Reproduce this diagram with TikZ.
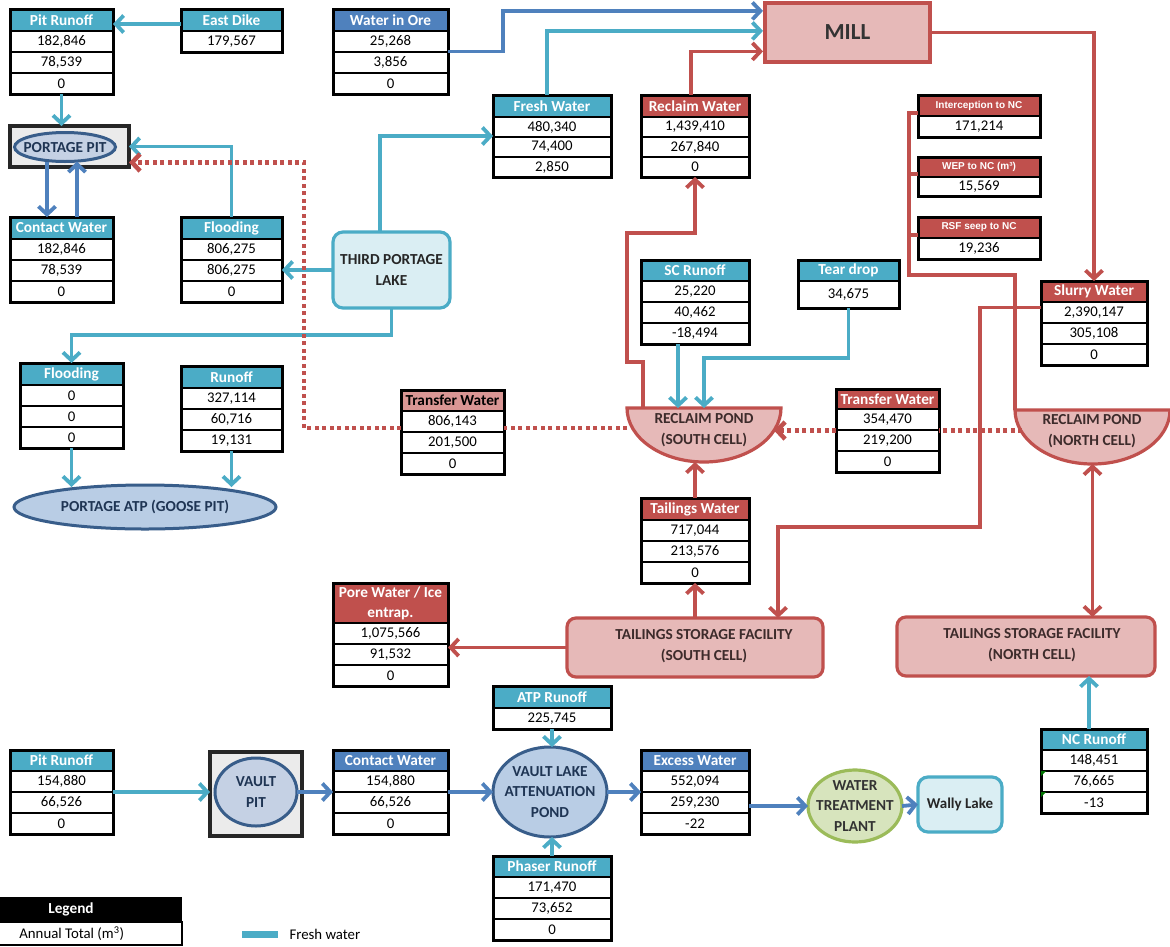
\documentclass[tikz,border=0pt]{standalone}
\usepackage{fontspec}
\setmainfont{Carlito}
\newfontfamily\smallhd{Liberation Sans}
\usetikzlibrary{arrows.meta,shapes.geometric,fit,calc}

\definecolor{fwblue}{HTML}{4BACC6}
\definecolor{cwblue}{HTML}{4F81BD}
\definecolor{rcred}{HTML}{C0504D}
\definecolor{pinkfill}{HTML}{E6B9B8}
\definecolor{pinkhd}{HTML}{DA9694}
\definecolor{navyline}{HTML}{385D8A}
\definecolor{ellfill}{HTML}{B9CDE5}
\definecolor{pitell}{HTML}{C5D1E4}
\definecolor{lakefill}{HTML}{DAEEF3}
\definecolor{pitfill}{HTML}{EBEBEB}
\definecolor{wtpfill}{HTML}{D7E4BD}
\definecolor{wtpline}{HTML}{9BBB59}
\definecolor{pinktext}{HTML}{3D2B2B}
\definecolor{navytext}{HTML}{1F3554}

\newcommand\tabfont{\fontsize{14.8}{17}\selectfont}
\newcommand\headfont{\fontsize{15.3}{20}\selectfont\bfseries}
\newcommand\lblfont{\fontsize{15.3}{20.5}\selectfont\bfseries}
\newcommand\rowh{21}

% data table: name, left x, top y, width, header height, header style, title, rows
\newcommand\wtab[8]{%
  \node[tabhead,#6,minimum width=#4pt,minimum height=#5pt] (#1) at (#2,#3) {#7};
  \foreach \v [count=\i] in {#8} {
    \node[tabrow,minimum width=#4pt,minimum height=\rowh pt] (#1-\i) at ({#2+#4/2},{#3+#5+(\i-1)*\rowh}) {\v};
    \xdef\lastrow{\i}
  }
  \node[tabframe,fit=(#1)(#1-\lastrow)] (#1-box) {};
}

\tikzset{
  tabhead/.style={draw=black,line width=2.4pt,inner sep=1pt,outer sep=0pt,anchor=north west,
    font=\headfont,text=white,align=center},
  tabrow/.style={draw=black,line width=1.8pt,inner sep=0pt,outer sep=0pt,anchor=north,
    fill=white,font=\tabfont,text=black},
  tabframe/.style={draw=black,line width=3pt,inner sep=0pt,outer sep=0pt},
  smallhead/.style={fill=rcred,font={\fontsize{10}{12}\selectfont\smallhd\bfseries}},
  fw/.style={draw=fwblue,line width=3.8pt},
  cw/.style={draw=cwblue,line width=3.8pt},
  rc/.style={draw=rcred,line width=3.8pt},
  arr/.style={-{Straight Barb[length=8pt,width=17pt]}},
  dotline/.style={draw=rcred,line width=4.5pt,dash pattern=on 4pt off 3.5pt},
  pinkbox/.style={draw=rcred,fill=pinkfill,line width=3.2pt,rounded corners=9pt,inner sep=0pt,outer sep=0pt},
  pitbox/.style={draw=black!85,fill=pitfill,line width=3.2pt,inner sep=0pt,outer sep=0pt},
  blueell/.style={ellipse,draw=navyline,fill=ellfill,line width=3pt,inner sep=0pt,outer sep=0pt},
  lakebox/.style={draw=fwblue,fill=lakefill,line width=3.2pt,rounded corners=10pt,inner sep=0pt,outer sep=0pt},
  lbl/.style={font=\lblfont,align=center,inner sep=0pt},
}

\begin{document}
\begin{tikzpicture}[x=1pt,y=-1pt]
\useasboundingbox (0,0) rectangle (1170,946);
\fill[white] (0,0) rectangle (1170,946);

% ---------- process shapes ----------
\node[draw=rcred,fill=pinkfill,line width=3.8pt,minimum width=165pt,minimum height=59pt,anchor=north west,
  inner sep=0pt,font=\fontsize{23}{26}\selectfont\bfseries,text=black!80] (mill) at (763,1) {MILL};

\node[pitbox,minimum width=119pt,minimum height=41pt,anchor=north west] (pp) at (10,126) {};
\node[blueell,fill=pitell,minimum width=101pt,minimum height=29pt] (ppe) at (65,147) {};
\node[lbl,text=navytext] (ppe-t) at (65,148) {PORTAGE PIT};

\node[lakebox,minimum width=117pt,minimum height=76pt,anchor=north west,lbl,text=black!85] (tpl) at (333,232) {THIRD PORTAGE\\LAKE};

\node[blueell,minimum width=262pt,minimum height=44pt] (atpg) at (145,507) {};
\node[lbl,text=navytext] (atpg-t) at (145,507) {PORTAGE ATP (GOOSE PIT)};

% reclaim ponds (half ellipses)
\node[inner sep=0pt,outer sep=0pt,minimum width=154pt,minimum height=54pt,anchor=north west] (rps) at (627,408) {};
\filldraw[draw=rcred,fill=pinkfill,line width=3.2pt] (rps.north west) arc[start angle=180,end angle=360,x radius=77pt,y radius=54pt] -- cycle;
\node[lbl,text=pinktext] (rps-t) at (704,430) {RECLAIM POND\\(SOUTH CELL)};

\node[inner sep=0pt,outer sep=0pt,minimum width=155pt,minimum height=54pt,anchor=north west] (rpn) at (1015,410) {};
\filldraw[draw=rcred,fill=pinkfill,line width=3.2pt] (rpn.north west) arc[start angle=180,end angle=360,x radius=77.5pt,y radius=54pt] -- cycle;
\node[lbl,text=pinktext] (rpn-t) at (1092,431) {RECLAIM POND\\(NORTH CELL)};

\node[pinkbox,minimum width=256pt,minimum height=59pt,anchor=north west] (tss) at (567,618) {};
\node[lbl,text=pinktext] (tss-t) at (704,646) {TAILINGS STORAGE FACILITY\\(SOUTH CELL)};
\node[pinkbox,minimum width=258pt,minimum height=59pt,anchor=north west] (tsn) at (897,617) {};
\node[lbl,text=pinktext] (tsn-t) at (1032,645) {TAILINGS STORAGE FACILITY\\(NORTH CELL)};

\node[pitbox,minimum width=92pt,minimum height=84pt,anchor=north west] (vp) at (210,752) {};
\node[blueell,fill=pitell,minimum width=82pt,minimum height=68pt] (vpe) at (256,792) {};
\node[lbl,text=navytext] (vpe-t) at (256,792) {VAULT\\PIT};

\node[blueell,minimum width=114pt,minimum height=90pt] (vlap) at (550,792) {};
\node[lbl,text=navytext] (vlap-t) at (550,792) {VAULT LAKE\\ATTENUATION\\POND};

\node[ellipse,draw=wtpline,fill=wtpfill,line width=3.2pt,inner sep=0pt,outer sep=0pt,minimum width=94pt,minimum height=72pt] (wtp) at (855,806) {};
\node[lbl,text=black!80] (wtp-t) at (855,806) {WATER\\TREATMENT\\PLANT};

\node[lakebox,minimum width=84pt,minimum height=55pt,anchor=north west,font=\fontsize{15}{17}\selectfont\bfseries,text=black!85] (wl) at (918,777) {Wally Lake};

% ---------- data tables ----------
\wtab{pr1}{10}{9}{103}{22}{fill=fwblue}{Pit Runoff}{{182,846},{78,539},{0}}
\wtab{ed}{181}{9}{101}{22}{fill=fwblue}{East Dike}{{179,567}}
\wtab{wo}{333}{9}{115}{22}{fill=cwblue}{Water in Ore}{{25,268},{3,856},{0}}
\wtab{cw1}{10}{217}{103}{22}{fill=fwblue}{Contact Water}{{182,846},{78,539},{0}}
\wtab{fl1}{181}{217}{101}{22}{fill=fwblue}{Flooding}{{806,275},{806,275},{0}}
{\renewcommand\rowh{20}
\wtab{fw}{493}{95}{118}{22}{fill=fwblue}{Fresh Water}{{480,340},{74,400},{2,850}}
\wtab{rw}{641}{95}{108}{22}{fill=rcred}{Reclaim Water}{{1,439,410},{267,840},{0}}
}
\wtab{ic}{918}{95}{122}{21}{smallhead}{Interception to NC}{{171,214}}
{\renewcommand\rowh{19}
\wtab{wep}{918}{157}{122}{20}{smallhead}{WEP to NC (m³)}{{15,569}}
}
\wtab{rsf}{918}{217}{122}{21}{smallhead}{RSF seep to NC}{{19,236}}
\wtab{sl}{1041}{281}{106}{21}{fill=rcred}{Slurry Water}{{2,390,147},{305,108},{0}}
\wtab{sc}{641}{260}{108}{21}{fill=fwblue}{SC Runoff}{{25,220},{40,462},{-18,494}}
{\renewcommand\rowh{27}
\wtab{td}{798}{260}{101}{21}{fill=fwblue}{Tear drop}{{34,675}}
}
\wtab{fl2}{20}{363}{103}{22}{fill=fwblue}{Flooding}{{0},{0},{0}}
\wtab{ro}{181}{366}{101}{22}{fill=fwblue}{Runoff}{{327,114},{60,716},{19,131}}
\wtab{twl}{401}{390}{103}{21}{fill=pinkhd,text=black}{Transfer Water}{{806,143},{201,500},{0}}
\wtab{twr}{836}{389}{103}{20}{fill=rcred}{Transfer Water}{{354,470},{219,200},{0}}
\wtab{tw}{641}{498}{108}{22}{fill=rcred}{Tailings Water}{{717,044},{213,576},{0}}
\wtab{pw}{333}{583}{115}{40}{fill=rcred}{Pore Water / Ice\\entrap.}{{1,075,566},{91,532},{0}}
\wtab{pr2}{10}{750}{103}{21}{fill=fwblue}{Pit Runoff}{{154,880},{66,526},{0}}
\wtab{cw2}{333}{750}{115}{21}{fill=cwblue}{Contact Water}{{154,880},{66,526},{0}}
\wtab{atp}{493}{686}{118}{22}{fill=fwblue}{ATP Runoff}{{225,745}}
\wtab{ph}{493}{856}{118}{21}{fill=fwblue}{Phaser Runoff}{{171,470},{73,652},{0}}
\wtab{ex}{641}{750}{108}{21}{fill=cwblue}{Excess Water}{{552,094},{259,230},{-22}}
\wtab{nc}{1041}{729}{106}{21}{fill=fwblue}{NC Runoff}{{148,451},{76,665},{-13}}
\fill[green!45!black] (nc-2.north west) -- ++(5,0) -- ++(-5,5) -- cycle;
\fill[green!45!black] (nc-3.north west) -- ++(5,0) -- ++(-5,5) -- cycle;

% ---------- fresh water flows ----------
\coordinate (edout) at ([yshift=-4pt]ed.west);
\draw[fw,arr] (edout) -- (edout -| pr1-box.east);
\draw[fw,arr] (pr1-box.south) -- (pr1-box.south |- pp.north);
\draw[fw,arr] (fl1-box.north) |- (pp.east);
\draw[fw,arr] (tpl.west) -- (tpl.west -| fl1-box.east);
\coordinate (tplup) at ([xshift=-11.5pt]tpl.north);
\draw[fw,arr] (tplup) |- (fw-box.west);
\draw[fw,arr] (tpl.south) -- ++(0,27) -| (fl2-box.north);
\draw[fw,arr,shorten >=-2pt] (fl2-box.south) -- (fl2-box.south |- atpg.north);
\draw[fw,arr,shorten >=-2pt] (ro-box.south) -- (ro-box.south |- atpg.north);
\coordinate (fwup) at ([xshift=-5pt]fw-box.north);
\draw[fw,arr] (fwup) |- ([yshift=1.5pt]mill.west);
\coordinate (scdown) at ([xshift=-17pt]sc-box.south);
\draw[fw,arr] (scdown) -- (scdown |- rps.north);
\draw[fw,arr] (td-box.south) -- ++(0,50) -| (rps.north);
\draw[fw,arr] (atp-box.south) -- (atp-box.south |- vlap.north);
\draw[fw,arr] (ph.north) -- (ph.north |- vlap.south);
\draw[fw,arr] (pr2-box.east) -- (pr2-box.east -| vp.west);
\coordinate (ncup) at ([xshift=-5pt]nc.north);
\draw[fw,arr] (ncup) -- (ncup |- tsn.south);

% ---------- contact water flows ----------
\draw[cw,arr] (wo-box.east) -- ++(55,0) |- ([yshift=21.5pt]mill.west);
\coordinate (ppdn) at ([xshift=-18pt]ppe.south);
\coordinate (ppup) at ([xshift=12pt]ppe.south);
\draw[cw,arr] (ppdn) -- (ppdn |- cw1-box.north);
\draw[cw,arr] (ppup |- cw1-box.north) -- (ppup);
\draw[cw,arr] (vpe.east) -- (cw2-box.west);
\draw[cw,arr] (cw2-box.east) -- (vlap.west);
\draw[cw,arr] (vlap.east) -- (ex-box.west);
\draw[cw,arr] (wtp.west -| ex-box.east) -- (wtp.west);
\draw[cw,arr] (wtp.east) -- (wl.west);

% ---------- reclaim / tailings flows ----------
\coordinate (rwup) at ([xshift=-4pt]rw.north);
\draw[rc,arr] (rwup) |- ([yshift=-19pt]mill.west);
\draw[rc,arr] (mill.east) -| (sl.north);
\coordinate (slout) at ([yshift=5pt]sl-1.west);
\coordinate (slbend) at (980,527);
\coordinate (tssin) at ([xshift=83pt]tss.north);
\draw[rc,arr] (slout) -| (slbend) -| (tssin);
\coordinate (rpsout) at ([xshift=16pt]rps.north west);
\draw[rc,arr] (rpsout) -- ++(0,-46) -- ++(-16,0) -- ++(0,-129) -| (rw-box.south);
\draw[rc,arr] (tss.north) -- (tw-box.south);
\draw[rc,arr] (tw.north) -- (tw.north |- rps.south);
\draw[rc,arr] (tss.west) -- (tss.west -| pw-box.east);
\draw[rc,{Straight Barb[length=8pt,width=17pt]}-{Straight Barb[length=8pt,width=17pt]}] (rpn.south) -- (rpn.south |- tsn.north);
\coordinate (ictap) at ([yshift=3pt]ic.south west);
\coordinate (nctrunk) at (909,275);
\draw[rc,line width=3.2pt] (ictap) -| (nctrunk) -| (rpn.north west);
\draw[rc,line width=3.2pt] ([yshift=3pt]wep.south west) -- ++(-9,0);
\draw[rc,line width=3.2pt] ([yshift=3pt]rsf.south west) -- ++(-9,0);

% ---------- transfer water (dotted) ----------
\coordinate (rpsw) at ([yshift=-20pt]rps.north west);
\draw[dotline] (rpsw) -- (rpsw -| twl-box.east);
\coordinate (twlout) at (rpsw -| twl-box.west);
\coordinate (dotx) at (304,0);
\draw[dotline,arr] (twlout) -- (twlout -| dotx) |- ([yshift=-16pt]pp.east);
\coordinate (twrin) at ($(twr-box.west -| rps.east)+(-7,0)$);
\draw[dotline,arr] (twr-box.west) -- (twrin);
\coordinate (rpnw) at ($(twr-box.east -| rpn.west)+(7,0)$);
\draw[dotline] (rpnw) -- (twr-box.east);

% ---------- legend ----------
\node[draw=black,fill=black,line width=1pt,minimum width=221pt,minimum height=24pt,anchor=north west,
  inner sep=0pt,font=\headfont,text=white] (lgh) at (-40,897) {Legend};
\node[draw=black,line width=2.4pt,minimum width=221pt,minimum height=23pt,anchor=north west,
  inner sep=0pt,font=\tabfont] (lgr) at (-40,921) {Annual Total (m\textsuperscript{3})};
\coordinate (lgsw) at (242,934);
\draw[fwblue,line width=7pt] (lgsw) -- ++(36,0) node[anchor=west,inner sep=0pt,xshift=8pt,font=\tabfont,text=black] (lgt) {Fresh water};
\end{tikzpicture}
\end{document}
